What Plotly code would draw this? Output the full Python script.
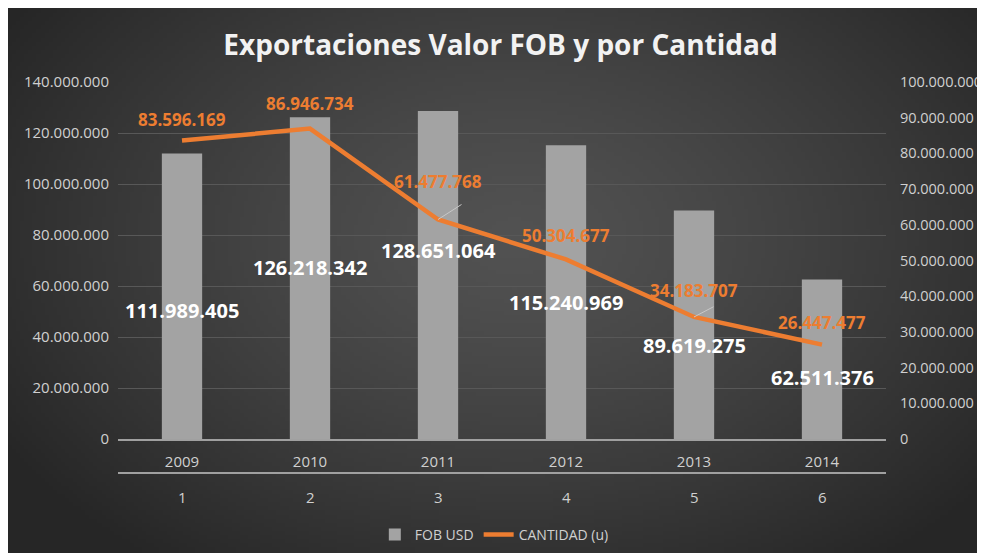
import base64, struct, zlib
import numpy as np
import plotly.graph_objects as go

# ---------------- data ----------------
years = ["2009", "2010", "2011", "2012", "2013", "2014"]
index_labels = ["1", "2", "3", "4", "5", "6"]
fob_usd = [111989405, 126218342, 128651064, 115240969, 89619275, 62511376]
cantidad = [83596169, 86946734, 61477768, 50304677, 34183707, 26447477]
# vertical anchor of the white bar labels (left-axis units), as placed in the original
fob_label_y = [50300000, 67200000, 73800000, 53400000, 36500000, 24300000]
# vertical anchor of the orange line labels (right-axis units)
cant_label_y = [89500000, 94000000, 72000000, 56900000, 41500000, 32600000]
# leader lines drawn in the original (index of point, pixel offset of the tail)
leaders = [(2, 25, -16), (4, 21, -11)]

# ---------------- background gradient (radial, Excel style) ----------------
W, H = 240, 134
yy, xx = np.mgrid[0:H, 0:W]
cx, cy = W * 0.52, H * 0.42
d = np.sqrt(((xx - cx) / (W * 0.62)) ** 2 + ((yy - cy) / (H * 0.75)) ** 2)
d = np.clip(d, 0, 1)
val = (82 - (82 - 38) * d ** 1.3).astype(np.uint8)
rows = b"".join(b"\x00" + bytes(np.stack([val[r]] * 3, axis=1).flatten()) for r in range(H))


def chunk(tag, data):
    c = struct.pack(">I", len(data)) + tag + data
    return c + struct.pack(">I", zlib.crc32(tag + data) & 0xFFFFFFFF)


png = b"\x89PNG\r\n\x1a\n" + chunk(b"IHDR", struct.pack(">IIBBBBB", W, H, 8, 2, 0, 0, 0)) \
    + chunk(b"IDAT", zlib.compress(rows, 9)) + chunk(b"IEND", b"")
bg_uri = "data:image/png;base64," + base64.b64encode(png).decode()

FONT = "Open Sans"
ORANGE = "#ED7D31"
TICK = "#D0D0D0"

# plot area geometry (figure pixels)
L, R, T, B = 110, 107, 74, 127
PW, PH = 985 - L - R, 558 - T - B


def py(fig_px):
    return (558 - B - fig_px) / PH


fig = go.Figure()
fig.add_trace(go.Bar(
    x=years, y=fob_usd, name="FOB USD",
    marker=dict(color="#A3A3A3", line=dict(width=0)),
    yaxis="y",
))
fig.add_trace(go.Scatter(
    x=years, y=cantidad, name="CANTIDAD (u)", mode="lines",
    line=dict(color=ORANGE, width=4.5),
    yaxis="y2",
))

annotations = []
for i, ax, ay in leaders:
    annotations.append(dict(
        x=i, y=cantidad[i], xref="x", yref="y2", text="", showarrow=True,
        ax=ax, ay=ay, arrowhead=0, arrowwidth=1, arrowcolor="#C8C8C8",
        standoff=0, startstandoff=0,
    ))
for i, (v, ly) in enumerate(zip(fob_usd, fob_label_y)):
    annotations.append(dict(
        x=i, y=ly, xref="x", yref="y", text=f"{v:,}".replace(",", "."),
        showarrow=False, font=dict(family=FONT, size=20, color="white", weight="bold"),
    ))
for i, (v, ly) in enumerate(zip(cantidad, cant_label_y)):
    annotations.append(dict(
        x=i, y=ly, xref="x", yref="y2", text=f"{v:,}".replace(",", "."),
        showarrow=False, font=dict(family=FONT, size=17, color=ORANGE, weight="bold"),
    ))
for i, lab in enumerate(index_labels):
    annotations.append(dict(
        x=i, y=py(489), xref="x", yref="paper", text=lab, showarrow=False,
        font=dict(family=FONT, size=15, color=TICK), yanchor="middle",
    ))

fig.update_layout(
    width=985, height=558,
    margin=dict(l=L, r=R, t=T, b=B),
    paper_bgcolor="white",
    plot_bgcolor="rgba(0,0,0,0)",
    separators=",.",
    bargap=0.685,
    title=dict(
        text="Exportaciones Valor FOB y por Cantidad",
        x=0.5, xanchor="center", y=1 - 37 / 558, yanchor="middle",
        font=dict(family=FONT, size=28, color="#F2F2F2", weight="bold"),
    ),
    xaxis=dict(
        type="category", range=[-0.5, 5.5], showgrid=False, zeroline=False,
        showline=True, linecolor="#A0A0A0", linewidth=2,
        ticks="outside", ticklen=8, tickcolor="rgba(0,0,0,0)",
        tickfont=dict(family=FONT, size=15, color=TICK),
    ),
    yaxis=dict(
        range=[0, 140000000], dtick=20000000, tickformat=",.0f",
        showgrid=True, gridcolor="#585858", gridwidth=1, zeroline=False,
        tickfont=dict(family=FONT, size=15, color=TICK),
        ticks="outside", ticklen=5, tickcolor="rgba(0,0,0,0)",
    ),
    yaxis2=dict(
        range=[0, 100000000], dtick=10000000, tickformat=",.0f",
        overlaying="y", side="right", showgrid=False, zeroline=False,
        tickfont=dict(family=FONT, size=14.5, color=TICK),
        ticks="outside", ticklen=10, tickcolor="rgba(0,0,0,0)",
    ),
    legend=dict(
        orientation="h", x=0.49, xanchor="center", y=py(527), yanchor="middle",
        font=dict(family=FONT, size=14, color=TICK), bgcolor="rgba(0,0,0,0)",
    ),
    annotations=annotations,
    shapes=[dict(type="line", xref="paper", yref="paper", x0=0, x1=1,
                 y0=py(465), y1=py(465), line=dict(color="#A0A0A0", width=2))],
    images=[dict(source=bg_uri, xref="paper", yref="paper",
                 x=(-2 - L) / PW, y=1 + (T + 1) / PH,
                 sizex=976 / PW, sizey=546 / PH,
                 sizing="stretch", layer="below", xanchor="left", yanchor="top")],
)

fig.write_html("out.html")
